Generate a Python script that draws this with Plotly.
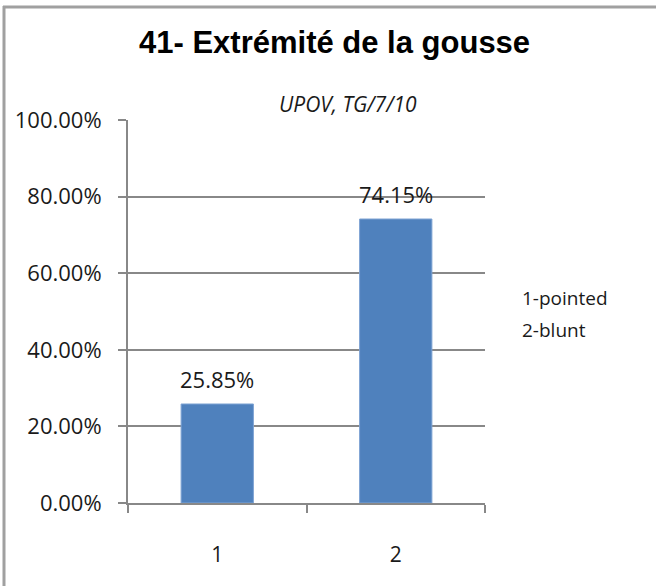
import plotly.graph_objects as go

categories = ["1", "2"]
values = [0.2585, 0.7415]
value_labels = ["25.85%", "74.15%"]
legend_lines = ["1-pointed", "2-blunt"]
title_text = "41- Extrémité de la gousse"
subtitle_text = "UPOV, TG/7/10"

W, H = 656, 586
L, R, T, B = 128, 171, 120, 83
pw, ph = W - L - R, H - T - B

def px_x(p):
    return (p - L) / pw

def px_y(p):
    return (H - B - p) / ph

grid = "#888888"
font_main = "Open Sans"
txt = "#1a1a1a"

fig = go.Figure()
fig.add_trace(go.Bar(
    x=categories, y=values, width=0.405,
    marker=dict(color="#4F81BD", line=dict(color="#7EA3D3", width=1)),
    hoverinfo="skip", showlegend=False,
))

annotations = []
for i, (v, t) in enumerate(zip(values, value_labels)):
    annotations.append(dict(x=i, y=v, text=t, showarrow=False, xref="x", yref="y",
                            yanchor="bottom", yshift=8,
                            font=dict(family=font_main, size=22, color=txt)))

annotations.append(dict(x=px_x(334), y=px_y(42), xref="paper", yref="paper", text="<b>" + title_text + "</b>",
                        showarrow=False, xanchor="center", yanchor="middle",
                        font=dict(family="Liberation Sans", size=31, color="#000000")))
annotations.append(dict(x=px_x(348), y=px_y(104), xref="paper", yref="paper", text="<i>" + subtitle_text + "</i>",
                        showarrow=False, xanchor="center", yanchor="middle",
                        font=dict(family=font_main, size=21, color=txt)))
for line, yc in zip(legend_lines, [298, 330]):
    annotations.append(dict(x=px_x(520), y=px_y(yc), xref="paper", yref="paper",
                            text=line, align="left",
                            showarrow=False, xanchor="left", yanchor="middle",
                            font=dict(family=font_main, size=19, color=txt)))

shapes = [
    dict(type="line", xref="paper", yref="paper", x0=px_x(4), x1=px_x(4), y0=px_y(6), y1=px_y(H + 5),
         line=dict(color="#a0a0a0", width=3)),
    dict(type="line", xref="paper", yref="paper", x0=px_x(3), x1=px_x(W + 5), y0=px_y(7), y1=px_y(7),
         line=dict(color="#a0a0a0", width=3)),
]

fig.update_layout(
    width=W, height=H,
    margin=dict(l=L, r=R, t=T, b=B),
    paper_bgcolor="white", plot_bgcolor="white",
    annotations=annotations, shapes=shapes,
    xaxis=dict(type="category", range=[-0.5, 1.5], tickson="boundaries", ticks="outside", ticklen=8,
               tickcolor=grid, tickwidth=2, showline=True, linecolor=grid, linewidth=2, showgrid=False,
               tickfont=dict(family=font_main, size=21, color=txt), ticklabelstandoff=32),
    yaxis=dict(range=[0, 1], dtick=0.2, tickformat=".2%", ticks="outside", ticklen=8, tickcolor=grid,
               tickwidth=2, showline=True, linecolor=grid, linewidth=2, showgrid=True, gridcolor=grid,
               gridwidth=2, zeroline=False,
               tickfont=dict(family=font_main, size=22, color=txt), ticklabelstandoff=12),
)

fig.write_html("out.html", config={"displayModeBar": False},
               post_script="document.body.style.margin='0';document.body.style.overflow='hidden';")
